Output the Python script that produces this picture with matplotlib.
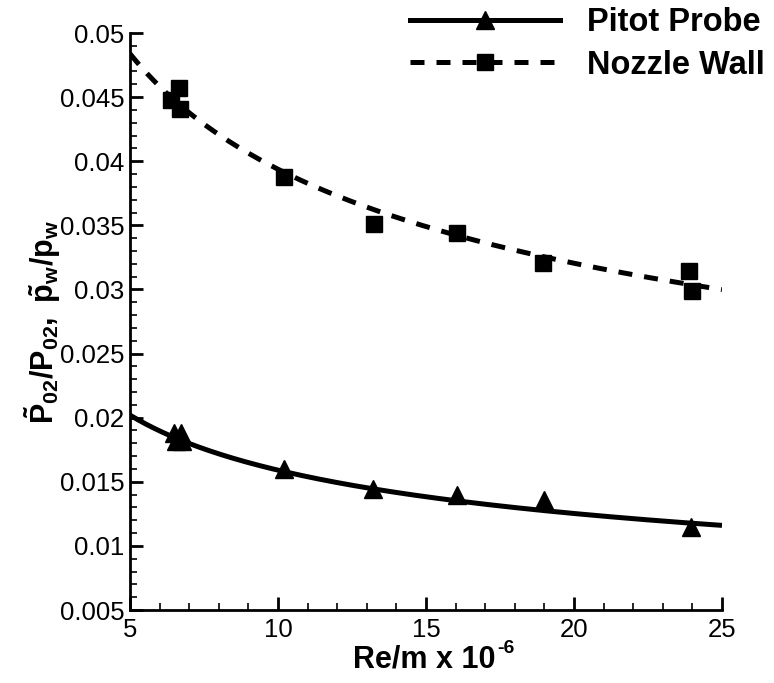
import numpy as np
import matplotlib
matplotlib.use("Agg")
import matplotlib.pyplot as plt
from matplotlib.ticker import MultipleLocator, FixedLocator, FixedFormatter
from matplotlib.lines import Line2D

plt.rcParams["font.family"] = ["Liberation Sans", "DejaVu Sans"]
plt.rcParams["mathtext.fontset"] = "custom"
plt.rcParams["mathtext.rm"] = "Liberation Sans:bold"
plt.rcParams["mathtext.bf"] = "Liberation Sans:bold"
plt.rcParams["mathtext.it"] = "Liberation Sans:bold"
plt.rcParams["mathtext.default"] = "bf"

# Measured fluctuation ratios vs unit Reynolds number
pitot_re = [6.50, 6.72, 6.55, 6.76, 10.2, 13.2, 16.05, 19.0, 23.95]
pitot_ratio = [0.0188, 0.0188, 0.0182, 0.0182, 0.0160, 0.0144, 0.0140, 0.0136, 0.0115]

wall_re = [6.65, 6.40, 6.70, 10.2, 13.25, 16.05, 18.95, 23.9, 24.0]
wall_ratio = [0.0457, 0.0448, 0.0441, 0.0388, 0.0351, 0.0344, 0.0321, 0.0314, 0.0299]

# Power-law curve fits, ratio = a * (Re/m)**b
pitot_fit_a, pitot_fit_b = 0.03517, -0.3446
wall_fit_a, wall_fit_b = 0.07806, -0.2972

x_ticks = [5, 10, 15, 20, 25]
y_ticks = [0.005, 0.01, 0.015, 0.02, 0.025, 0.03, 0.035, 0.04, 0.045, 0.05]
y_tick_labels = ["0.005", "0.01", "0.015", "0.02", "0.025", "0.03", "0.035",
                 "0.04", "0.045", "0.05"]

fig = plt.figure(figsize=(7.74, 6.83), dpi=100)
ax = fig.add_axes([130 / 774, 1 - 610 / 683, 592 / 774, 577 / 683])

xs = np.linspace(5, 25, 300)
ax.plot(xs, pitot_fit_a * xs ** pitot_fit_b, color="black", lw=3.6,
        solid_capstyle="butt", zorder=2)
ax.plot(xs, wall_fit_a * xs ** wall_fit_b, color="black", lw=3.6,
        dashes=(2.8, 2.4), dash_capstyle="butt", zorder=2)
ax.plot(pitot_re, pitot_ratio, ls="none", marker="^", ms=13, color="black", zorder=3)
ax.plot(wall_re, wall_ratio, ls="none", marker="s", ms=12, color="black", zorder=3)

ax.set_xlim(5, 25)
ax.set_ylim(0.005, 0.05)
ax.xaxis.set_major_locator(FixedLocator(x_ticks))
ax.xaxis.set_minor_locator(MultipleLocator(1))
ax.yaxis.set_major_locator(FixedLocator(y_ticks))
ax.yaxis.set_major_formatter(FixedFormatter(y_tick_labels))
ax.yaxis.set_minor_locator(MultipleLocator(0.001))

for side in ("top", "right"):
    ax.spines[side].set_visible(False)
for side in ("left", "bottom"):
    ax.spines[side].set_linewidth(2.0)

ax.tick_params(which="both", direction="in", top=False, right=False, labelsize=18.5)
ax.tick_params(which="major", length=9.5, width=2.0)
ax.tick_params(which="minor", length=5, width=1.2)
ax.tick_params(axis="x", pad=6)
ax.tick_params(axis="y", pad=4)

# x-axis title with a small hyphen-style exponent
fig.text(496 / 774, 1 - 667 / 683, "Re/m x 10", fontsize=22, fontweight="bold",
         ha="right", va="baseline")
fig.text(497 / 774, 1 - 653 / 683, "-6", fontsize=14, fontweight="bold",
         ha="left", va="baseline")

ax.set_ylabel(r"$\tilde{P}_{02}/P_{02},\ \tilde{p}_w/p_w$", fontsize=22, labelpad=-2)

handles = [
    Line2D([], [], color="black", lw=3.6, marker="^", ms=13),
    Line2D([], [], color="black", lw=3.6, dashes=(2.8, 2.4), marker="s", ms=12),
]
fig.legend(handles, ["Pitot Probe", "Nozzle Wall"], loc="upper left",
           bbox_to_anchor=(410 / 774, 1 - 7 / 683), frameon=False, numpoints=1,
           prop={"weight": "bold", "size": 23.5}, handlelength=4.6,
           handletextpad=0.83, labelspacing=0.36, borderpad=0, borderaxespad=0)

fig.savefig("out.png", dpi=100)
